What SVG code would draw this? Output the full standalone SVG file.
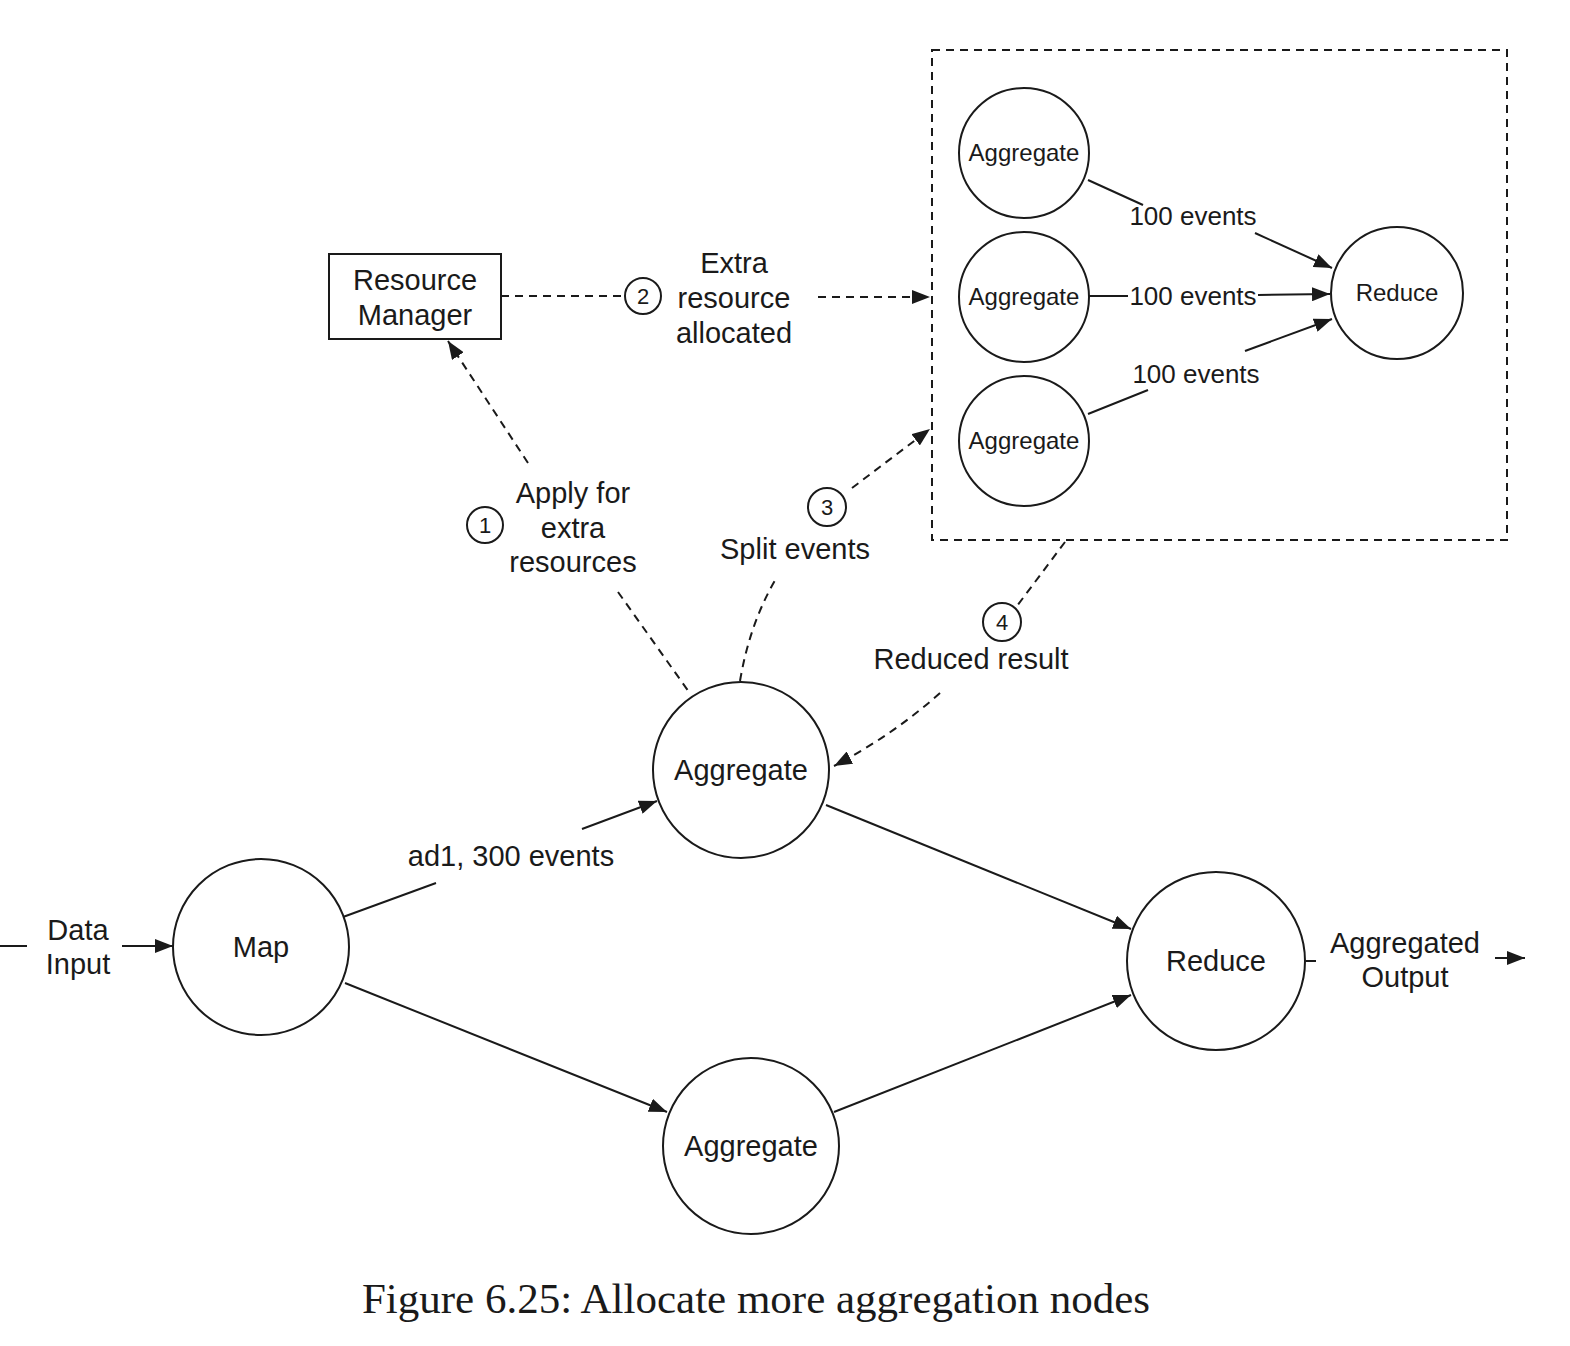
<svg xmlns="http://www.w3.org/2000/svg" width="1570" height="1346" viewBox="0 0 1570 1346">
<defs>
<marker id="ah" markerUnits="userSpaceOnUse" markerWidth="20" markerHeight="14" refX="18" refY="7" orient="auto">
<path d="M0,0 L18,7 L0,14 Z" fill="#1a1a1a"/>
</marker>
<style>
text{font-family:"Liberation Sans",Arial,sans-serif;fill:#1a1a1a;text-anchor:middle}
.t{font-size:29px}
.s{font-size:24px}
.e{font-size:26px}
.n{font-size:22px}
.cap{font-family:"Liberation Serif","Times New Roman",serif;font-size:43px}
.node{fill:#fff;stroke:#1a1a1a;stroke-width:2}
.ln{fill:none;stroke:#1a1a1a;stroke-width:2}
.d{fill:none;stroke:#1a1a1a;stroke-width:2;stroke-dasharray:8 6}
</style>
</defs>
<rect width="1570" height="1346" fill="#fff"/>

<g id="cluster">
<rect x="932" y="50" width="575" height="490" class="d"/>
</g>

<g id="connectors">
<line x1="1088" y1="180" x2="1143" y2="205" class="ln"/>
<line x1="1255" y1="233" x2="1332" y2="268" class="ln" marker-end="url(#ah)"/>
<line x1="1088" y1="296" x2="1128" y2="296" class="ln"/>
<line x1="1258" y1="295" x2="1330" y2="294" class="ln" marker-end="url(#ah)"/>
<line x1="1088" y1="414" x2="1148" y2="390" class="ln"/>
<line x1="1245" y1="351" x2="1332" y2="319" class="ln" marker-end="url(#ah)"/>
<line x1="501" y1="296" x2="624" y2="296" class="d"/>
<line x1="818" y1="297" x2="930" y2="297" class="d" marker-end="url(#ah)"/>
<line x1="528" y1="463" x2="448" y2="341" class="d" marker-end="url(#ah)"/>
<line x1="618" y1="592" x2="689" y2="692" class="d"/>
<path d="M740,681 Q750,622 777,577" class="d"/>
<line x1="852" y1="488" x2="930" y2="429" class="d" marker-end="url(#ah)"/>
<line x1="1065" y1="542" x2="1017" y2="606" class="d"/>
<path d="M940,693 Q893,735 834,766" class="d" marker-end="url(#ah)"/>
<line x1="0" y1="946" x2="27" y2="946" class="ln"/>
<line x1="122" y1="946" x2="173" y2="946" class="ln" marker-end="url(#ah)"/>
<line x1="343" y1="917" x2="436" y2="883" class="ln"/>
<line x1="582" y1="829" x2="657" y2="801" class="ln" marker-end="url(#ah)"/>
<line x1="345" y1="983" x2="667" y2="1112" class="ln" marker-end="url(#ah)"/>
<line x1="826" y1="805" x2="1131" y2="929" class="ln" marker-end="url(#ah)"/>
<line x1="834" y1="1112" x2="1131" y2="995" class="ln" marker-end="url(#ah)"/>
<line x1="1306" y1="961" x2="1316" y2="961" class="ln"/>
<line x1="1495" y1="958" x2="1525" y2="958" class="ln" marker-end="url(#ah)"/>
</g>

<g id="labels">
<circle cx="643" cy="296" r="18" class="node"/><text class="n" x="643" y="304">2</text>
<text class="t" x="734" y="273">Extra</text>
<text class="t" x="734" y="308">resource</text>
<text class="t" x="734" y="343">allocated</text>
<circle cx="485" cy="525" r="18" class="node"/><text class="n" x="485" y="533">1</text>
<text class="t" x="573" y="503">Apply for</text>
<text class="t" x="573" y="538">extra</text>
<text class="t" x="573" y="572">resources</text>
<circle cx="827" cy="507" r="19" class="node"/><text class="n" x="827" y="515">3</text>
<text class="t" x="795" y="559">Split events</text>
<circle cx="1002" cy="622" r="19" class="node"/><text class="n" x="1002" y="630">4</text>
<text class="t" x="971" y="669">Reduced result</text>
<text class="t" x="511" y="866">ad1, 300 events</text>
<text class="t" x="78" y="940">Data</text>
<text class="t" x="78" y="974">Input</text>
<text class="t" x="1405" y="953">Aggregated</text>
<text class="t" x="1405" y="987">Output</text>
<text class="e" x="1193" y="225">100 events</text>
<text class="e" x="1193" y="305">100 events</text>
<text class="e" x="1196" y="383">100 events</text>
</g>

<g id="resource-manager">
<rect x="329" y="254" width="172" height="85" class="node"/>
<text class="t" x="415" y="290">Resource</text>
<text class="t" x="415" y="325">Manager</text>
</g>

<g id="agg-inner-1"><circle cx="1024" cy="153" r="65" class="node"/><text class="s" x="1024" y="161">Aggregate</text></g>
<g id="agg-inner-2"><circle cx="1024" cy="297" r="65" class="node"/><text class="s" x="1024" y="305">Aggregate</text></g>
<g id="agg-inner-3"><circle cx="1024" cy="441" r="65" class="node"/><text class="s" x="1024" y="449">Aggregate</text></g>
<g id="reduce-inner"><circle cx="1397" cy="293" r="66" class="node"/><text class="s" x="1397" y="301">Reduce</text></g>

<g id="map"><circle cx="261" cy="947" r="88" class="node"/><text class="t" x="261" y="957">Map</text></g>
<g id="agg-top"><circle cx="741" cy="770" r="88" class="node"/><text class="t" x="741" y="780">Aggregate</text></g>
<g id="agg-bottom"><circle cx="751" cy="1146" r="88" class="node"/><text class="t" x="751" y="1156">Aggregate</text></g>
<g id="reduce"><circle cx="1216" cy="961" r="89" class="node"/><text class="t" x="1216" y="971">Reduce</text></g>

<text class="cap" x="756" y="1313">Figure 6.25: Allocate more aggregation nodes</text>
</svg>
